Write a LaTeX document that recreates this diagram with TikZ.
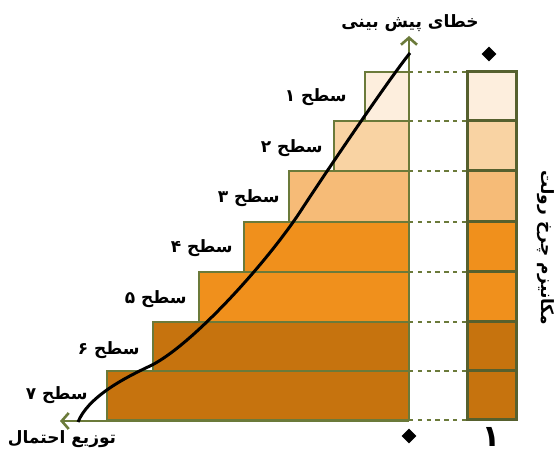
\documentclass[tikz,border=0pt]{standalone}
\usepackage{fontspec}
\newfontfamily\fa[Script=Arabic]{DejaVu Sans}
\TeXXeTstate=1
\usetikzlibrary{arrows.meta,shapes.geometric}
\definecolor{barGreen}{HTML}{6B7A3A}
\definecolor{cellGreen}{HTML}{56602E}
\definecolor{lvlA}{HTML}{FDEEDD}
\definecolor{lvlB}{HTML}{F9D3A3}
\definecolor{lvlC}{HTML}{F6BB77}
\definecolor{lvlD}{HTML}{F0901C}
\definecolor{lvlE}{HTML}{C6730E}

\begin{document}
\begin{tikzpicture}[x=0.5pt,y=-0.5pt,
  bar/.style={draw=barGreen,line width=1.25pt},
  cell/.style={draw=cellGreen,line width=1.5pt},
  axis/.style={draw=barGreen,line width=1.3pt,-{Straight Barb[length=3.5pt,width=8pt]}},
  guide/.style={draw=barGreen,line width=1.1pt,dash pattern=on 2.2pt off 2.2pt},
  txt/.style={font=\fa\bfseries\fontsize{8.5}{11}\selectfont},
  lbl/.style={txt,anchor=east,inner sep=0pt},
  diam/.style={diamond,fill=black,inner sep=0pt,minimum size=7.5pt}]
  \useasboundingbox (0,0) rectangle (558,453);
  % levels: bars on the left, cells of the wheel on the right
  \foreach \i/\xl/\yt/\yb/\c in {1/365/72/121/lvlA, 2/334/121/171/lvlB,
      3/289/171/222/lvlC, 4/244/222/272/lvlD, 5/199/272/322/lvlD,
      6/153/322/371/lvlE, 7/107/371/420/lvlE} {
    \draw[bar,fill=\c] (\xl,\yt) rectangle (409,\yb);
    \draw[cell,fill=\c] (467,\yt) rectangle (516,\yb);
  }
  % level labels
  \node[lbl] (s1) at (347,97) {\beginR سطح ۱\endR};
  \node[lbl] (s2) at (323,148) {\beginR سطح ۲\endR};
  \node[lbl] (s3) at (280,198) {\beginR سطح ۳\endR};
  \node[lbl] (s4) at (233,248) {\beginR سطح ۴\endR};
  \node[lbl] (s5) at (187,299) {\beginR سطح ۵\endR};
  \node[lbl] (s6) at (140,350) {\beginR سطح ۶\endR};
  \node[lbl] (s7) at (88,395) {\beginR سطح ۷\endR};
  % dotted guides between staircase and column
  \foreach \y [count=\j from 0] in {72,121,171,222,272,322,371,420} {
    \coordinate (g\j) at (409,\y);
    \coordinate (h\j) at (467,\y);
    \draw[guide] (g\j) -- (h\j);
  }
  % axes
  \coordinate (o) at (409,421);
  \coordinate (ytop) at (409,36);
  \coordinate (xend) at (60,421);
  \draw[axis] (o) -- (ytop);
  \draw[axis] (o) -- (xend);
  % curve
  \draw[line width=1.5pt] (78,422) .. controls (88,398) and (120,380) .. (150,366)
    .. controls (190,347) and (265,265) .. (300,212)
    .. controls (330,166) and (392,75) .. (410,53);
  % texts
  \node[txt] (err) at (410,23) {\beginR خطای پیش بینی\endR};
  \node[txt] (dist) at (62,439) {\beginR توزیع احتمال\endR};
  \node[txt,rotate=-90] (roul) at (546,248) {\beginR مکانیزم چرخ رولت\endR};
  \node[diam] (d1) at (489,54) {};
  \node[diam] (d2) at (409,436) {};
  \node[font=\fa\bfseries\fontsize{15}{18}\selectfont] (one) at (491,437) {۱};
\end{tikzpicture}
\end{document}
